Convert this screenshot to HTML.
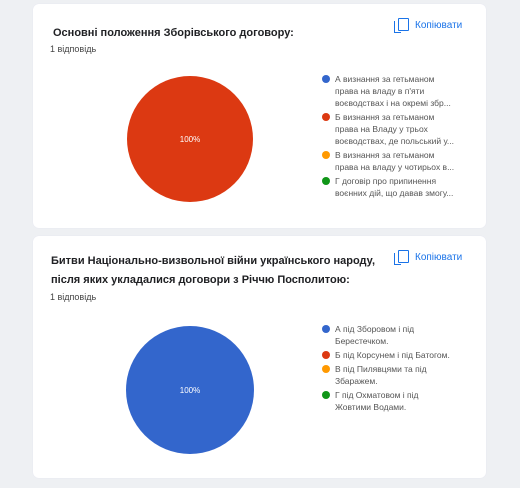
<!DOCTYPE html>
<html><head><meta charset="utf-8"><style>
body{margin:0;width:520px;height:488px;background:#eef0f3;font-family:"Liberation Sans",sans-serif;overflow:hidden;position:relative}
.card{position:absolute;left:33px;width:453px;background:#fff;border-radius:6px;box-shadow:0 0 1px #dde}
.title{position:absolute;font-weight:bold;font-size:11px;color:#202124;line-height:19px}
.sub{position:absolute;font-size:9px;color:#444}
.copy{position:absolute;font-size:10px;color:#1a73e8}
.icon{position:absolute;width:9px;height:11px;border:1.5px solid #1a73e8;border-radius:1px}
.icon2{position:absolute;width:6px;height:11px;border-left:1.5px solid #1a73e8;border-bottom:1.5px solid #1a73e8}
svg{position:absolute;left:0;top:0}
</style></head><body>
<div class="card" style="top:4px;height:224px">
 <div class="title" style="left:20px;top:20px">Основні положення Зборівського договору:</div>
 <div class="sub" style="left:17px;top:40px">1 відповідь</div>
 <div>
  <div class="icon2" style="left:361px;top:17px"></div><div class="icon" style="left:365px;top:14px"></div>
  <div class="copy" style="left:382px;top:16px">Копіювати</div></div>
</div>
<div class="card" style="top:236px;height:242px">
 <div class="title" style="left:18px;top:16px">Битви Національно-визвольної війни українського народу,<br>після яких укладалися договори з Річчю Посполитою:</div>
 <div class="sub" style="left:17px;top:56px">1 відповідь</div>
 <div>
  <div class="icon2" style="left:361px;top:17px"></div><div class="icon" style="left:365px;top:14px"></div>
  <div class="copy" style="left:382px;top:16px">Копіювати</div></div>
</div>
<svg id="s" width="520" height="488"></svg>
<script>
const colors=["#3366cc","#dc3912","#ff9900","#109618"];
const values1=[0,1,0,0];
const labels1=[["А визнання за гетьманом","права на владу в п'яти","воєводствах і на окремі збр..."],["Б визнання за гетьманом","права на Владу у трьох","воєводствах, де польський у..."],["В визнання за гетьманом","права на владу у чотирьох в..."],["Г договір про припинення","воєнних дій, що давав змогу..."]];
const values2=[1,0,0,0];
const labels2=[["А під Зборовом і під","Берестечком."],["Б під Корсунем і під Батогом."],["В під Пилявцями та під","Збаражем."],["Г під Охматовом і під","Жовтими Водами."]];
const NS="http://www.w3.org/2000/svg";
const s=document.getElementById('s');
function mk(t,a){const e=document.createElementNS(NS,t);for(const k in a)e.setAttribute(k,a[k]);s.appendChild(e);return e;}
function pie(cx,cy,r,vals,labels,ly,n){
 const tot=vals.reduce((a,b)=>a+b,0);let ang=0;
 vals.forEach((v,i)=>{if(!v)return;const f=v/tot;let el;
  if(f>=0.999){el=mk('circle',{cx,cy,r,fill:colors[i]});}
  else{const a0=ang*2*Math.PI-Math.PI/2,a1=(ang+f)*2*Math.PI-Math.PI/2;
   el=mk('path',{d:`M${cx},${cy}L${cx+r*Math.cos(a0)},${cy+r*Math.sin(a0)}A${r},${r} 0 ${f>0.5?1:0} 1 ${cx+r*Math.cos(a1)},${cy+r*Math.sin(a1)}Z`,fill:colors[i]});}
  
  
  const t=mk('text',{x:cx,y:cy+3,'text-anchor':'middle','font-size':8,fill:'#fff','font-family':'Liberation Sans'});
  t.textContent=Math.round(f*100)+'%';
  
  
  ang+=f;});
 let y=ly;
 labels.forEach((ls,i)=>{
  const c=mk('circle',{cx:326,cy:y,r:4,fill:colors[i]});
  
  
  ls.forEach((l,j)=>{const t=mk('text',{x:335,y:y+3+j*12,'font-size':8.5,fill:'#555','font-family':'Liberation Sans'});t.textContent=l;
   
   });
  y+=ls.length*12+2;});
}
pie(190,139,63,values1,labels1,79,1);
pie(190,390,64,values2,labels2,329,2);
</script>
</body></html>
